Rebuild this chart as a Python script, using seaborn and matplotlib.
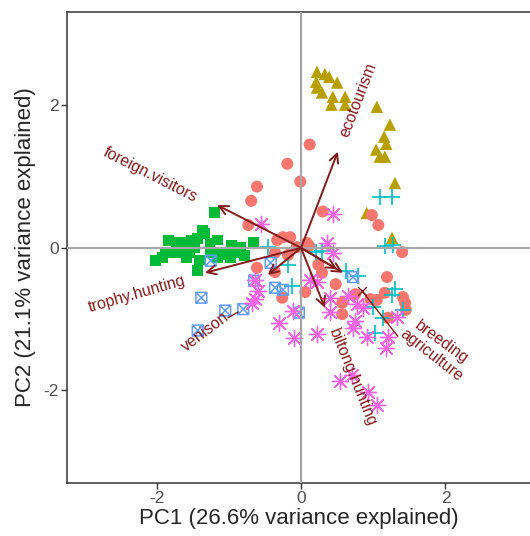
import matplotlib
matplotlib.use("Agg")
import matplotlib.pyplot as plt
from matplotlib.path import Path
import numpy as np
import pandas as pd
import seaborn as sns

# ---- PCA scores, one pair of lists per group ----
green_pc1 = [-1.20, -1.36, -1.43, -1.51, -1.84, -1.72, -1.61, -1.15, -0.66, -0.96, -0.84,
             -1.88, -1.77, -1.63, -1.54, -1.26, -1.12, -1.01, -0.89, -2.02, -1.92, -1.40,
             -1.16, -1.08, -1.43, -1.33, -1.47, -1.70, -1.26, -0.78, -1.58, -0.98]
green_pc2 = [0.49, 0.24, 0.13, 0.10, 0.10, 0.07, 0.07, 0.11, 0.08, 0.03, 0.00,
             -0.06, -0.07, -0.07, -0.07, -0.06, -0.06, -0.07, -0.07, -0.18, -0.13, -0.17,
             -0.13, -0.10, -0.32, 0.20, 0.00, 0.00, 0.06, -0.11, -0.14, -0.14]

olive_pc1 = [0.22, 0.33, 0.39, 0.21, 0.50, 0.22, 0.29, 0.44, 0.61, 0.42, 0.61,
             1.05, 1.23, 1.15, 1.18, 1.04, 1.09, 1.16, 1.30, 0.91, 1.26]
olive_pc2 = [2.47, 2.44, 2.40, 2.33, 2.32, 2.25, 2.18, 2.12, 2.12, 2.01, 2.01,
             1.98, 1.73, 1.56, 1.46, 1.38, 1.28, 1.28, 0.91, 0.49, 0.14]

salmon_pc1 = [0.12, -0.19, -0.01, -0.61, -0.69, -0.73, 0.30, 0.98, 1.07, -0.33, -0.25,
              -0.15, -0.06, 0.11, 1.40, -0.36, -0.18, -0.61, -0.36, -0.26, 0.08, 0.24,
              0.29, 0.06, 0.48, 0.57, 0.57, 0.75, 0.96, 1.05, 1.19, 1.16, 1.41, 1.44,
              1.45, 1.20]
salmon_pc2 = [1.45, 1.18, 0.93, 0.86, 0.66, 0.32, 0.51, 0.46, 0.32, 0.11, 0.15,
              0.15, 0.01, 0.03, -0.06, -0.07, -0.10, -0.28, -0.34, -0.70, 0.07, -0.24,
              -0.35, -0.62, -0.51, -0.77, -0.93, -0.65, -0.72, -0.73, -0.41, -0.63, -0.69, -0.77,
              -0.87, -0.98]

cyan_pc1 = [1.09, 1.26, 1.16, 1.27, -0.46, -0.18, -0.12, 0.21, 0.29, 0.62, 0.79,
            1.30, 1.26, 1.00, 1.13, 1.41, 1.02]
cyan_pc2 = [0.72, 0.72, 0.03, 0.04, 0.01, -0.24, -0.53, -0.06, -0.04, -0.32, -0.39,
            -0.58, -0.66, -0.83, -0.98, -0.87, -1.19]

blue_pc1 = [-1.25, -0.42, -0.65, -0.36, -0.25, -1.38, -1.05, -0.80, -1.43, -0.03, 0.72]
blue_pc2 = [-0.18, -0.21, -0.46, -0.56, -0.59, -0.70, -0.88, -0.86, -1.16, -0.91, -0.41]

magenta_pc1 = [-0.55, 0.44, 0.36, 0.44, -0.64, -0.60, -0.64, -0.68, -0.30, -0.11, -0.10,
               0.12, 0.22, 0.40, 0.65, 0.78, 0.86, 0.40, 0.75, 0.72, 0.91, 1.20,
               1.33, 1.18, 0.22, 0.54, 0.71, 0.93, 1.05]
magenta_pc2 = [0.34, 0.48, 0.07, -0.07, -0.45, -0.60, -0.72, -0.77, -1.05, -0.88, -1.26,
               -0.45, -0.48, -0.70, -0.67, -0.79, -0.84, -0.90, -1.02, -1.12, -1.25, -1.25,
               -0.97, -1.40, -1.21, -1.87, -1.78, -2.02, -2.20]

# ---- variable loadings (arrows) and their labels ----
var_names = ["foreign.visitors", "ecotourism", "trophy.hunting", "venison",
             "biltong.hunting", "breeding", "agriculture"]
load_pc1 = [-1.16, 0.51, -1.33, -0.46, 0.33, 0.58, 0.50]
load_pc2 = [0.60, 1.35, -0.35, -0.38, -0.84, -0.35, -0.30]
label_pc1 = [-2.09, 0.79, -2.27, -1.33, 0.71, 1.94, 1.81]
label_pc2 = [1.02, 2.08, -0.65, -1.18, -1.82, -1.33, -1.50]
label_angle = [-27, 69, 16, 37, -68, -36, -38]

# stray segments next to the labels
seg_start = [(0.84, -0.60), (-1.01, -0.98)]
seg_end = [(1.34, -1.24), (-0.87, -0.90)]

# square with a cross (ggplot shape 7)
sq_cross = Path([(-1, -1), (1, -1), (1, 1), (-1, 1), (-1, -1),
                 (-1, -1), (1, 1), (-1, 1), (1, -1)],
                [Path.MOVETO, Path.LINETO, Path.LINETO, Path.LINETO, Path.CLOSEPOLY,
                 Path.MOVETO, Path.LINETO, Path.MOVETO, Path.LINETO])

sns.set_style("white")
plt.rcParams['font.family'] = ['Liberation Sans', 'DejaVu Sans']
plt.rcParams['axes.unicode_minus'] = False

fig = plt.figure(figsize=(5.3, 5.36), dpi=100)
ax = fig.add_axes([67 / 530, 1 - 483 / 536, 1 - 67 / 530, 471 / 536])

dark = "#841B1B"

sns.scatterplot(x=green_pc1, y=green_pc2, marker="s", s=62, color="#00BA38",
                edgecolor="none", ax=ax, zorder=2)
sns.scatterplot(x=olive_pc1, y=olive_pc2, marker="^", s=80, color="#B79F00",
                edgecolor="none", ax=ax, zorder=2)
sns.scatterplot(x=salmon_pc1, y=salmon_pc2, marker="o", s=75, color="#F8766D",
                edgecolor="none", ax=ax, zorder=2)
sns.scatterplot(x=cyan_pc1, y=cyan_pc2, marker="+", s=130, color="#00BFC4",
                linewidth=1.2, ax=ax, zorder=2)
sns.scatterplot(x=blue_pc1, y=blue_pc2, marker=sq_cross, s=60, color="#619CFF",
                facecolor="none", edgecolor="#619CFF", linewidth=1.1, ax=ax, zorder=2)
sns.scatterplot(x=magenta_pc1, y=magenta_pc2, marker=(8, 2, 0), s=135, color="#F564E3",
                linewidth=1.0, ax=ax, zorder=2)

# reference lines through the origin
ax.axhline(0, color="#A6A6A6", lw=1.6, zorder=3)
ax.axvline(0, color="#A6A6A6", lw=1.6, zorder=3)

# loading arrows
for x, y in zip(load_pc1, load_pc2):
    ax.annotate("", xy=(x, y), xytext=(0, 0),
                arrowprops=dict(arrowstyle="->", color=dark, lw=1.4,
                                mutation_scale=16, shrinkA=0, shrinkB=0),
                zorder=4)
for (x0, y0), (x1, y1) in zip(seg_start, seg_end):
    ax.plot([x0, x1], [y0, y1], color=dark, lw=1.0, zorder=4)
ax.scatter([seg_start[0][0]], [seg_start[0][1]], marker="x", s=40, color=dark,
           linewidth=1.0, zorder=4)

for name, x, y, a in zip(var_names, label_pc1, label_pc2, label_angle):
    ax.text(x, y, name, rotation=a, rotation_mode="anchor", ha="center", va="center",
            color=dark, fontsize=11.5, zorder=5)

ax.set_xlim(-3.24, 3.17)
ax.set_ylim(-3.30, 3.31)
ax.set_xticks([-2, 0, 2])
ax.set_yticks([-2, 0, 2])
ax.tick_params(length=4, width=1, color="#333333", labelcolor="#4D4D4D",
               labelsize=12.5, pad=2, bottom=True, left=True)
for side in ["left", "top", "bottom"]:
    ax.spines[side].set_color("#333333")
    ax.spines[side].set_linewidth(1.1)
ax.spines["right"].set_visible(False)

ax.set_xlabel("PC1 (26.6% variance explained)", fontsize=16, labelpad=1)
ax.set_ylabel("PC2 (21.1% variance explained)", fontsize=16, labelpad=5)

fig.savefig("out.png", dpi=100)
